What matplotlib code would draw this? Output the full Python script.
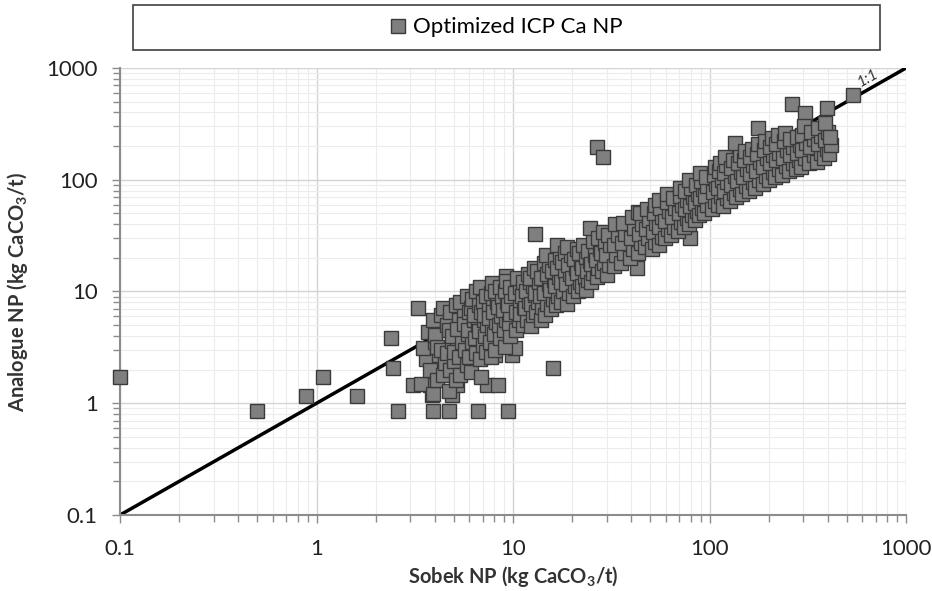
#
# plot.py - Sobek NP vs analogue NP, log-log scatter
#

import numpy as np

import matplotlib
matplotlib.use('Agg')
import matplotlib.pyplot as plt
from matplotlib.patches import Rectangle
from matplotlib.ticker import FixedLocator, FixedFormatter, LogLocator, NullFormatter

plt.rcParams['font.family'] = ['Lato', 'DejaVu Sans']

# (Sobek NP, Analogue NP) pairs, kg CaCO3/t
outliers = [
    (0.1, 1.7), (0.5, 0.85), (0.88, 1.15), (1.08, 1.7), (1.6, 1.15),
    (2.4, 3.8), (2.46, 2.07), (2.6, 0.85), (3.3, 7.1), (3.9, 0.85),
    (4.7, 0.85), (6.6, 0.85), (9.4, 0.85), (16, 2.07), (26.7, 196),
    (28.6, 160), (537, 573), (396, 440), (263, 476), (306, 395),
    (12.9, 33), (3.1, 1.46), (3.8, 1.46), (3.87, 1.19), (4.9, 1.19),
    (5.2, 1.46), (7.4, 1.46), (8.4, 1.46), (9.9, 2.7), (10.2, 3.1),
    (8.1, 2.7), (42.8, 16.2), (79.6, 30), (177, 290), (9.2, 13.8),
]

cluster_low = [
    (3.4, 1.5), (3.6, 2.5), (3.5, 3.1), (3.7, 4.3),
    (3.9, 1.2), (3.8, 2.0), (4.0, 3.5), (3.9, 5.6),
    (4.1, 1.6), (4.2, 2.7), (4.0, 4.1), (4.3, 6.1), (4.1, 3.2),
    (4.4, 1.8), (4.5, 2.3), (4.3, 3.0), (4.6, 5.0), (4.4, 7.1),
    (4.7, 1.3), (4.8, 2.0), (4.6, 2.8), (4.9, 3.6), (4.7, 4.5), (4.8, 6.6),
    (5.1, 1.6), (5.0, 2.4), (5.2, 3.3), (4.9, 4.0), (5.3, 5.6), (5.1, 7.6), (5.0, 2.9),
    (5.4, 1.8), (5.3, 2.6), (5.5, 3.5), (5.2, 4.6), (5.6, 6.1), (5.4, 8.1),
    (5.8, 2.2), (5.7, 3.0), (5.9, 4.2), (5.6, 5.1), (6.0, 6.6), (5.8, 9.1),
    (6.1, 1.9), (6.0, 2.6), (6.2, 3.5), (5.9, 4.5), (6.3, 5.5), (6.1, 7.1), (6.2, 8.6),
    (6.5, 2.8), (6.4, 3.8), (6.6, 5.0), (6.3, 6.1), (6.7, 7.6), (6.5, 10),
    (6.9, 1.7), (6.8, 2.5), (7.0, 3.3), (6.7, 4.4), (7.1, 5.5), (6.9, 6.6), (7.0, 8.1), (6.8, 11),
    (7.3, 2.9), (7.2, 4.0), (7.4, 5.0), (7.1, 6.2), (7.5, 7.1), (7.3, 9.1),
    (7.7, 2.6), (7.6, 3.5), (7.8, 4.7), (7.5, 5.8), (7.9, 7.6), (7.7, 9.6), (7.8, 12),
    (8.1, 3.0), (8.0, 4.2), (8.2, 5.3), (7.9, 6.5), (8.3, 8.1), (8.1, 10),
    (8.6, 3.8), (8.5, 5.0), (8.7, 6.0), (8.4, 7.2), (8.8, 8.9), (8.6, 11),
    (9.1, 3.2), (9.0, 4.5), (9.2, 5.5), (8.9, 6.8), (9.3, 8.1), (9.1, 10), (9.2, 12.5),
    (9.6, 4.0), (9.5, 5.2), (9.7, 6.3), (9.4, 7.5), (9.8, 9.1), (9.6, 11),
]

cluster_mid = [
    (10.3, 4.5), (10.7, 5.6), (10.4, 6.6), (10.9, 8.1), (10.2, 9.6), (10.8, 11), (10.5, 13.2),
    (11.2, 5.0), (10.9, 6.3), (11.4, 7.3), (11.1, 9.1), (11.6, 10.4), (11.3, 12.2),
    (11.8, 5.6), (11.5, 7.1), (12.1, 8.2), (11.7, 10.1), (12.2, 12.1), (11.9, 14.3),
    (12.4, 4.9), (12.7, 6.1), (12.3, 7.7), (12.9, 9.3), (12.6, 11.2), (12.2, 13.1), (12.8, 16.2),
    (13.1, 6.6), (13.4, 8.1), (12.9, 9.7), (13.6, 12.2), (13.3, 15.1),
    (13.8, 5.6), (14.1, 7.3), (13.7, 9.1), (14.3, 10.6), (13.9, 13.2), (14.4, 18.1),
    (14.6, 6.1), (14.9, 7.7), (14.4, 9.6), (15.2, 11.6), (14.8, 14.2), (15.3, 17.2), (14.7, 21),
    (15.6, 6.9), (15.9, 8.6), (15.4, 10.3), (16.2, 12.6), (15.8, 15.2), (16.3, 19.2),
    (16.6, 7.6), (16.9, 9.1), (16.4, 11.1), (17.2, 13.6), (16.8, 16.1), (17.3, 20.3), (16.7, 26),
    (17.6, 8.1), (18.0, 10.1), (17.5, 12.2), (18.3, 15.1), (17.8, 18.2), (18.4, 22.3),
    (18.8, 7.7), (19.2, 9.6), (18.6, 11.6), (19.5, 14.2), (19.0, 17.1), (19.7, 21.2), (18.9, 25),
    (20.1, 9.1), (20.6, 11.1), (19.9, 13.1), (20.9, 16.2), (20.4, 19.6), (21.1, 24.2),
    (21.4, 10.1), (21.8, 12.1), (21.2, 14.6), (22.2, 18.1), (21.6, 22.2),
    (22.5, 11.1), (23.1, 13.6), (22.4, 16.1), (23.4, 20.2), (22.8, 26.2),
    (23.6, 10.3), (24.2, 12.6), (23.8, 15.1), (24.6, 18.6), (24.1, 23.2),
    (25.0, 12.1), (25.6, 14.6), (24.8, 17.6), (26.1, 21.2), (25.4, 28.2), (24.6, 37),
    (26.6, 13.6), (27.2, 16.1), (26.4, 19.2), (27.6, 24.2), (27.0, 30.3),
    (28.2, 15.1), (28.9, 18.1), (28.0, 22.2), (29.4, 27.2), (28.7, 34.1),
    (30.1, 14.1), (30.8, 17.1), (29.8, 21.1), (31.2, 26.2), (30.5, 32.3),
]

cluster_high = [
    (32.5, 17), (33.6, 21), (32.8, 26), (34.0, 32), (33.2, 40),
    (35.4, 18), (36.6, 22), (35.8, 27), (37.0, 33), (36.2, 41),
    (39.2, 20), (40.6, 24), (39.6, 30), (41.2, 37), (40.2, 46), (43, 51),
    (43.2, 22), (44.8, 27), (43.6, 33), (45.4, 40), (44.2, 50),
    (47.0, 25), (48.8, 30), (47.6, 36), (49.4, 44), (48.2, 55),
    (51.0, 24), (52.9, 28), (51.6, 34), (53.6, 41), (52.2, 50), (53.0, 60),
    (55.0, 26), (57.0, 31), (55.6, 38), (57.6, 46), (56.2, 56), (55.4, 66),
    (59.0, 30), (61.2, 36), (59.6, 43), (62.0, 52), (60.4, 63), (61.0, 75),
    (64.0, 32), (66.2, 38), (64.6, 46), (67.0, 56), (65.4, 68),
    (69.0, 35), (71.4, 42), (69.6, 50), (72.0, 60), (70.4, 72), (71.0, 85),
    (74.0, 38), (76.4, 45), (74.6, 55), (77.0, 66), (75.4, 80),
    (78.6, 40), (81.4, 48), (79.4, 58), (82.0, 70), (80.4, 85), (79.0, 100),
    (84.0, 44), (86.6, 52), (84.6, 62), (87.2, 75), (85.4, 90),
    (88.6, 48), (91.6, 56), (89.4, 68), (92.2, 82), (90.4, 98), (89.0, 115),
    (94.0, 50), (96.6, 60), (94.6, 72), (97.2, 88), (95.4, 105),
]

cluster_top = [
    (103, 55), (107, 65), (104, 78), (108, 92), (105, 110), (106, 130),
    (110, 60), (114, 72), (111, 85), (115, 100), (112, 120), (113, 140),
    (117, 58), (122, 68), (118, 80), (123, 95), (119, 115), (121, 135), (120, 160),
    (127, 65), (133, 76), (128, 90), (134, 108), (129, 128), (131, 150),
    (137, 70), (143, 82), (138, 98), (144, 118), (139, 140), (142, 165), (135, 215),
    (146, 75), (153, 88), (148, 105), (155, 125), (149, 150), (152, 180),
    (158, 80), (166, 95), (160, 112), (167, 135), (161, 160), (164, 190),
    (171, 85), (179, 100), (173, 120), (180, 145), (174, 170), (177, 210),
    (186, 92), (194, 108), (188, 130), (195, 155), (189, 185), (192, 220),
    (200, 100), (210, 118), (203, 140), (211, 165), (204, 195), (207, 235),
    (215, 105), (225, 125), (218, 150), (226, 175), (219, 210), (222, 250),
    (234, 110), (246, 132), (237, 158), (247, 185), (238, 220), (243, 260),
    (254, 120), (266, 140), (257, 165), (267, 195), (258, 230),
    (274, 125), (286, 150), (277, 175), (287, 205), (278, 240),
    (293, 130), (307, 155), (296, 185), (308, 215), (297, 250), (302, 300),
    (322, 140), (338, 165), (326, 195), (339, 230), (327, 270),
    (352, 145), (368, 175), (356, 210), (369, 245), (357, 290),
    (382, 157), (398, 190), (386, 225), (399, 265), (387, 320),
    (405, 170), (414, 205), (408, 240),
]

tick_values = [0.1, 1, 10, 100, 1000]
tick_labels = ['0.1', '1', '10', '100', '1000']
one_to_one = [0.1, 1000]

pts = np.array(outliers + cluster_low + cluster_mid + cluster_high + cluster_top)

fig = plt.figure(figsize=(9.32, 5.91), dpi=100)
ax = fig.add_axes([0.1288, 0.1286, 0.8434, 0.7564])

ax.set_xscale('log')
ax.set_yscale('log')
ax.set_xlim(0.1, 1000)
ax.set_ylim(0.1, 1000)

# 1:1 line underneath the points
ax.plot(one_to_one, one_to_one, color='black', lw=2.5, zorder=2)
ax.text(640, 815, '1:1', rotation=29.6, fontsize=11, style='italic',
        ha='center', va='center', color='#333333', zorder=4)

ax.plot(pts[:, 0], pts[:, 1], 's', ms=10, mfc='#7f7f7f', mec='#3a3a3a',
        mew=1.0, zorder=3, label='Optimized ICP Ca NP', clip_on=False)

for axis in (ax.xaxis, ax.yaxis):
    axis.set_major_locator(FixedLocator(tick_values))
    axis.set_major_formatter(FixedFormatter(tick_labels))
    axis.set_minor_locator(LogLocator(base=10, subs=np.arange(2, 10)))
    axis.set_minor_formatter(NullFormatter())

ax.grid(True, which='major', color='#d4d4d4', lw=1.0, zorder=0)
ax.grid(True, which='minor', color='#ececec', lw=0.8, zorder=0)
ax.set_axisbelow(True)

for s in ('top', 'right'):
    ax.spines[s].set_visible(False)
for s in ('left', 'bottom'):
    ax.spines[s].set_color('#8c8c8c')
    ax.spines[s].set_linewidth(1.5)

ax.tick_params(which='both', direction='out', color='#8c8c8c', width=1.0,
               labelsize=16, labelcolor='#222222')
ax.tick_params(which='major', length=6)
ax.tick_params(axis='x', which='major', pad=11)
ax.tick_params(axis='y', which='major', pad=10)
ax.tick_params(which='minor', length=5)

ax.set_xlabel(r'Sobek NP (kg CaCO$_\mathregular{3}$/t)', fontsize=14.5,
              fontweight='bold', color='#333333', labelpad=4)
ax.set_ylabel(r'Analogue NP (kg CaCO$_\mathregular{3}$/t)', fontsize=14.5,
              fontweight='bold', color='#333333')
ax.yaxis.set_label_coords(-0.114, 0.5)

# legend sits in a framed strip above the plot
leg = fig.legend(loc='center', bbox_to_anchor=(0.5435, 0.9535),
                 frameon=False, fontsize=16, handlelength=0.7,
                 handletextpad=0.3, markerscale=0.95)
fig.patches.append(Rectangle((0.1427, 0.9154), 0.8015, 0.0761,
                             transform=fig.transFigure, fill=False,
                             ec='#404040', lw=1.2))

fig.savefig('out.png', dpi=100)
